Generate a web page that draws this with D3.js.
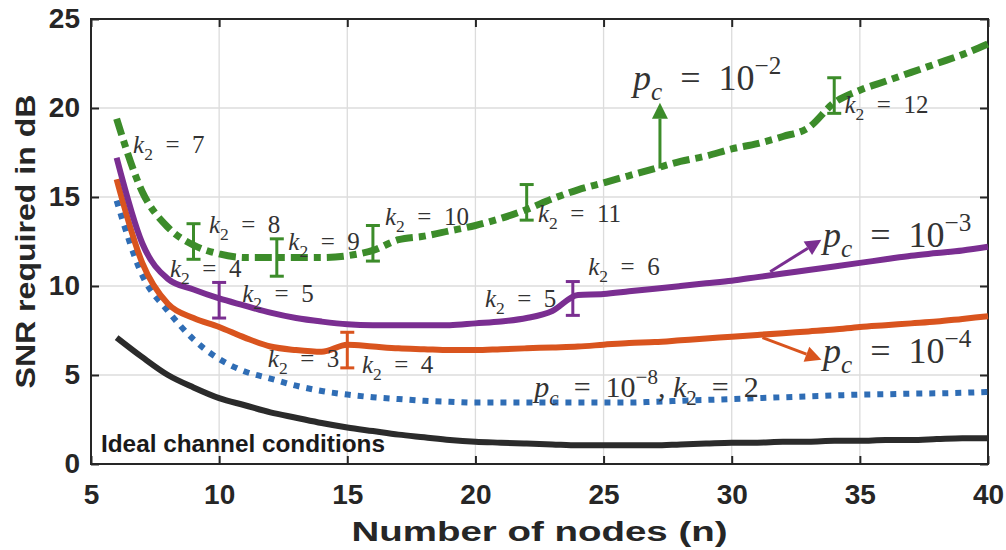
<!DOCTYPE html>
<html>
<head>
<meta charset="utf-8">
<script src="https://cdn.jsdelivr.net/npm/d3@7"></script>
<style>
body { margin: 0; background: #fff; }
text { white-space: pre; }
</style>
</head>
<body>
<div id="chart"></div>
<script>
// number of nodes, 6..40
const nodes = d3.range(6, 41);

const ideal = [7.1, 6.0, 5.0, 4.3, 3.7, 3.3, 2.9, 2.6, 2.3, 2.05, 1.85, 1.65, 1.5, 1.35, 1.25, 1.2, 1.15, 1.1,
    1.05, 1.05, 1.05, 1.05, 1.1, 1.15, 1.2, 1.2, 1.25, 1.25, 1.3, 1.3, 1.35, 1.35, 1.4, 1.45, 1.45];
const pc8 = [14.8, 10.6, 8.6, 7.0, 5.9, 5.2, 4.8, 4.4, 4.1, 3.9, 3.75, 3.65, 3.55, 3.5, 3.45, 3.45, 3.45, 3.45,
    3.45, 3.45, 3.45, 3.5, 3.55, 3.6, 3.65, 3.7, 3.75, 3.8, 3.85, 3.9, 3.92, 3.95, 3.97, 4.0, 4.05];
const pc4 = [16.0, 11.3, 9.0, 8.2, 7.7, 7.1, 6.6, 6.4, 6.3, 6.7, 6.6, 6.5, 6.45, 6.4, 6.4, 6.45, 6.5, 6.55,
    6.6, 6.7, 6.8, 6.85, 6.95, 7.05, 7.15, 7.25, 7.35, 7.45, 7.55, 7.7, 7.8, 7.9, 8.0, 8.15, 8.3];
const pc3 = [17.2, 12.4, 10.4, 9.8, 9.3, 8.9, 8.5, 8.2, 8.0, 7.85, 7.8, 7.8, 7.8, 7.8, 7.9, 8.0, 8.2, 8.6,
    9.5, 9.55, 9.7, 9.85, 10.0, 10.15, 10.3, 10.5, 10.7, 10.9, 11.1, 11.3, 11.5, 11.7, 11.85, 12.0, 12.2];
const pc2 = [19.4, 15.3, 13.3, 12.3, 11.8, 11.6, 11.6, 11.6, 11.6, 11.7, 12.0, 12.6, 12.8, 13.1, 13.4, 13.8, 14.3, 14.9,
    15.4, 15.8, 16.2, 16.6, 17.0, 17.3, 17.7, 18.0, 18.4, 18.9, 20.3, 21.0, 21.5, 22.0, 22.5, 23.0, 23.6];

// error bars: x, centre, half height
const pc2Bars = [[9, 12.5, 1.0], [12.25, 11.6, 1.05], [16, 12.4, 1.0], [22, 14.7, 1.0], [34, 20.7, 1.0]];
const pc3Bars = [[10, 9.2, 1.0], [23.8, 9.3, 0.95]];
const pc4Bars = [[15, 6.4, 1.0]];

const xTicks = [5, 10, 15, 20, 25, 30, 35, 40];
const yTicks = [0, 5, 10, 15, 20, 25];

// k2 labels: x, y (baseline), value
const k2Labels = [[6.64, 17.5, "7"], [9.6, 13.0, "8"], [12.7, 12.0, "9"], [16.47, 13.4, "10"], [22.44, 13.6, "11"],
    [34.4, 19.7, "12"], [8.08, 10.5, "4"], [10.9, 9.1, "5"], [11.9, 5.45, "3"], [15.57, 5.1, "4"],
    [20.37, 8.8, "5"], [24.4, 10.6, "6"]];

const width = 1006, height = 550;
const margin = { top: 19, right: 18, bottom: 86, left: 91 };

const svg = d3.select("#chart").append("svg")
    .attr("width", width)
    .attr("height", height);

const x = d3.scaleLinear().domain([5, 40]).range([margin.left, width - margin.right]);
const y = d3.scaleLinear().domain([0, 25]).range([height - margin.bottom, margin.top]);

const colors = {
    ideal: "#2b2b2b",
    pc8: "#2f6db5",
    pc4: "#d9541e",
    pc3: "#7a2e91",
    pc2: "#3c8c2a"
};

// grid
svg.append("g").selectAll("line").data(xTicks.slice(1, -1)).join("line")
    .attr("x1", d => x(d)).attr("x2", d => x(d))
    .attr("y1", y(0)).attr("y2", y(25))
    .attr("stroke", "#dcdcdc").attr("stroke-width", 1.3);
svg.append("g").selectAll("line").data(yTicks.slice(1, -1)).join("line")
    .attr("x1", x(5)).attr("x2", x(40))
    .attr("y1", d => y(d)).attr("y2", d => y(d))
    .attr("stroke", "#dcdcdc").attr("stroke-width", 1.3);

// axes
const tickFont = "'Liberation Sans', Arial, sans-serif";
const axBottom = svg.append("g").attr("transform", `translate(0,${y(0)})`)
    .call(d3.axisBottom(x).tickValues(xTicks).tickSize(-8).tickPadding(20));
const axLeft = svg.append("g").attr("transform", `translate(${x(5)},0)`)
    .call(d3.axisLeft(y).tickValues(yTicks).tickSize(-8).tickPadding(11));
svg.append("g").attr("transform", `translate(0,${y(25)})`)
    .call(d3.axisTop(x).tickValues(xTicks).tickSize(-8).tickFormat(""));
svg.append("g").attr("transform", `translate(${x(40)},0)`)
    .call(d3.axisRight(y).tickValues(yTicks).tickSize(-8).tickFormat(""));

svg.selectAll(".domain").remove();
svg.selectAll(".tick line").attr("stroke", "#262626").attr("stroke-width", 2);
[axBottom, axLeft].forEach(a => a.selectAll("text")
    .attr("font-family", tickFont)
    .attr("font-weight", "bold")
    .attr("font-size", 28)
    .attr("fill", "#262626"));

svg.append("rect")
    .attr("x", x(5)).attr("y", y(25))
    .attr("width", x(40) - x(5)).attr("height", y(0) - y(25))
    .attr("fill", "none").attr("stroke", "#262626").attr("stroke-width", 2);

// axis titles
svg.append("text")
    .attr("x", (x(5) + x(40)) / 2).attr("y", 541)
    .attr("text-anchor", "middle")
    .attr("font-family", tickFont).attr("font-weight", "bold").attr("font-size", 28)
    .attr("textLength", 376).attr("lengthAdjust", "spacingAndGlyphs")
    .attr("fill", "#262626")
    .text("Number of nodes (n)");
svg.append("text")
    .attr("transform", `translate(35,${(y(0) + y(25)) / 2}) rotate(-90)`)
    .attr("text-anchor", "middle")
    .attr("font-family", tickFont).attr("font-weight", "bold").attr("font-size", 28)
    .attr("textLength", 294).attr("lengthAdjust", "spacingAndGlyphs")
    .attr("fill", "#262626")
    .text("SNR required in dB");

// curves
const line = d3.line().x((d, i) => x(nodes[i])).y(d => y(d)).curve(d3.curveMonotoneX);
const plot = svg.append("g");

function drawCurve(values, color, w, dash) {
    plot.append("path")
        .attr("d", line(values))
        .attr("fill", "none")
        .attr("stroke", color)
        .attr("stroke-width", w)
        .attr("stroke-dasharray", dash || null)
        .attr("stroke-linejoin", "round");
}

drawCurve(ideal, colors.ideal, 6);
drawCurve(pc8, colors.pc8, 6, "6,7");
drawCurve(pc4, colors.pc4, 6);
drawCurve(pc3, colors.pc3, 6);
drawCurve(pc2, colors.pc2, 7, "17,6,7,6");

function drawBars(bars, color) {
    const g = plot.append("g").attr("stroke", color).attr("stroke-width", 3);
    bars.forEach(([bx, c, e]) => {
        g.append("line").attr("x1", x(bx)).attr("x2", x(bx)).attr("y1", y(c - e)).attr("y2", y(c + e));
        [c - e, c + e].forEach(v => g.append("line")
            .attr("x1", x(bx) - 7).attr("x2", x(bx) + 7).attr("y1", y(v)).attr("y2", y(v)));
    });
}
drawBars(pc2Bars, colors.pc2);
drawBars(pc3Bars, colors.pc3);
drawBars(pc4Bars, colors.pc4);

// math labels
const serif = "'Liberation Serif', 'Times New Roman', serif";
function mathText(px, py, parts, size) {
    const t = svg.append("text")
        .attr("x", px).attr("y", py)
        .attr("font-family", serif).attr("font-size", size)
        .attr("fill", "#333");
    let shift = 0;
    parts.forEach(p => {
        const target = p.sub ? 0.28 * size : p.sup ? -0.45 * size : 0;
        const s = t.append("tspan").attr("dy", target - shift).text(p.t);
        shift = target;
        if (p.sub || p.sup) s.attr("font-size", size * 0.7);
        if (p.i) s.attr("font-style", "italic");
    });
    return t;
}
const eq = "\u2002=\u2002";

k2Labels.forEach(([lx, ly, v]) => {
    mathText(x(lx), y(ly), [{ t: "k", i: true }, { t: "2", sub: true }, { t: eq + v }], 25);
});

function pcLabel(lx, ly, exp, size, extra) {
    const parts = [{ t: "p", i: true }, { t: "c", i: true, sub: true }, { t: eq + "10" }, { t: "\u2212" + exp, sup: true }];
    if (extra) parts.push({ t: ", " }, { t: "k", i: true }, { t: "2", sub: true }, { t: eq + extra });
    mathText(x(lx), y(ly), parts, size);
}
pcLabel(26.15, 21.0, "2", 36);
pcLabel(33.56, 12.2, "3", 36);
pcLabel(33.56, 5.67, "4", 36);
pcLabel(22.3, 3.76, "8", 30, "2");

// arrows
function arrow(x0, y0, x1, y1, color) {
    const ax = x(x0), ay = y(y0), bx = x(x1), by = y(y1);
    const ang = Math.atan2(by - ay, bx - ax);
    const len = 16, half = 8;
    const cx = bx - len * Math.cos(ang), cy = by - len * Math.sin(ang);
    svg.append("line").attr("x1", ax).attr("y1", ay).attr("x2", cx).attr("y2", cy)
        .attr("stroke", color).attr("stroke-width", 3);
    const pts = [[bx, by],
        [cx + half * Math.sin(ang), cy - half * Math.cos(ang)],
        [cx - half * Math.sin(ang), cy + half * Math.cos(ang)]];
    svg.append("polygon").attr("points", pts.map(p => p.join(",")).join(" ")).attr("fill", color);
}
arrow(27.2, 16.6, 27.2, 20.3, colors.pc2);
arrow(31.5, 10.8, 33.5, 12.6, colors.pc3);
arrow(31.2, 7.1, 33.5, 5.85, colors.pc4);

svg.append("text")
    .attr("x", x(5.39)).attr("y", y(0.67))
    .attr("font-family", tickFont).attr("font-weight", "bold").attr("font-size", 23)
    .attr("textLength", 284).attr("lengthAdjust", "spacingAndGlyphs")
    .attr("fill", "#1a1a1a")
    .text("Ideal channel conditions");
</script>
</body>
</html>
